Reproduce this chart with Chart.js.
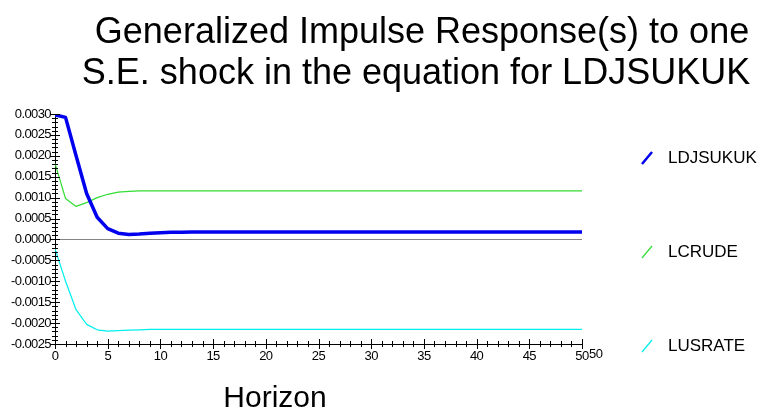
<!DOCTYPE html>
<html><head><meta charset="utf-8">
<script src="https://cdn.jsdelivr.net/npm/chart.js@4/dist/chart.umd.min.js"></script>
<style>html,body{margin:0;padding:0;background:#fff}#wrap{width:777px;height:412px}</style>
</head><body><div id="wrap"><canvas id="c" width="777" height="412"></canvas></div>
<script>
const titleLines = ["Generalized Impulse Response(s) to one", "S.E. shock in the equation for LDJSUKUK"];
const xTitle = "Horizon";
const seriesNames = ["LDJSUKUK", "LCRUDE", "LUSRATE"];
const horizon = Array.from({length: 51}, (_, i) => i);
const ldjsukuk = [0.00298,0.00292,0.00200,0.00110,0.00053,0.00026,0.00015,0.00012,0.00013,0.00015,0.00016,0.00017,0.00017,0.00018,0.00018,0.00018,0.00018,0.00018,0.00018,0.00018,0.00018,0.00018,0.00018,0.00018,0.00018,0.00018,0.00018,0.00018,0.00018,0.00018,0.00018,0.00018,0.00018,0.00018,0.00018,0.00018,0.00018,0.00018,0.00018,0.00018,0.00018,0.00018,0.00018,0.00018,0.00018,0.00018,0.00018,0.00018,0.00018,0.00018,0.00018];
const lcrude = [0.00182,0.00098,0.00079,0.00088,0.00100,0.00108,0.00113,0.00115,0.00116,0.00116,0.00116,0.00116,0.00116,0.00116,0.00116,0.00116,0.00116,0.00116,0.00116,0.00116,0.00116,0.00116,0.00116,0.00116,0.00116,0.00116,0.00116,0.00116,0.00116,0.00116,0.00116,0.00116,0.00116,0.00116,0.00116,0.00116,0.00116,0.00116,0.00116,0.00116,0.00116,0.00116,0.00116,0.00116,0.00116,0.00116,0.00116,0.00116,0.00116,0.00116,0.00116];
const lusrate = [-0.00022,-0.00100,-0.00168,-0.00203,-0.00216,-0.00219,-0.00218,-0.00217,-0.00216,-0.00215,-0.00215,-0.00215,-0.00215,-0.00215,-0.00215,-0.00215,-0.00215,-0.00215,-0.00215,-0.00215,-0.00215,-0.00215,-0.00215,-0.00215,-0.00215,-0.00215,-0.00215,-0.00215,-0.00215,-0.00215,-0.00215,-0.00215,-0.00215,-0.00215,-0.00215,-0.00215,-0.00215,-0.00215,-0.00215,-0.00215,-0.00215,-0.00215,-0.00215,-0.00215,-0.00215,-0.00215,-0.00215,-0.00215,-0.00215,-0.00215,-0.00215];
const colors = ["#0000ee", "#33dd33", "#00eeee"];
const widths = [3.5, 1.2, 1.2];
const yMin = -0.0025, yMax = 0.0030;

const FONT = '"Liberation Sans", Arial, sans-serif';

const extras = {
  id: 'extras',
  beforeDraw(chart) { chart.ctx.letterSpacing = '-0.6px'; },
  afterDraw(chart) {
    const ctx = chart.ctx;
    const xs = chart.scales.x, ys = chart.scales.y;
    ctx.save();
    ctx.strokeStyle = '#000';
    ctx.lineWidth = 1;
    ys.ticks.forEach(t => {
      const p = Math.round(ys.getPixelForValue(t.value)) + 0.5;
      const major = Math.round(t.value * 10000) % 5 === 0;
      const L = major ? 5 : 3;
      ctx.beginPath(); ctx.moveTo(xs.left - L, p); ctx.lineTo(xs.left + L, p); ctx.stroke();
    });
    xs.ticks.forEach(t => {
      const p = Math.round(xs.getPixelForValue(t.value)) + 0.5;
      const major = Math.round(t.value) % 5 === 0;
      const L = major ? 5 : 3;
      ctx.beginPath(); ctx.moveTo(p, ys.bottom - L); ctx.lineTo(p, ys.bottom + L); ctx.stroke();
    });
    // trailing end label
    ctx.fillStyle = '#000';
    ctx.font = '13px ' + FONT;
    ctx.textAlign = 'left';
    ctx.textBaseline = 'top';
    ctx.fillText('50', xs.getPixelForValue(50) + 7, ys.bottom + 4);
    ctx.letterSpacing = '0px';
    // titles
    ctx.textAlign = 'center';
    ctx.textBaseline = 'alphabetic';
    ctx.font = '36px ' + FONT;
    ctx.fillText(titleLines[0], 422, 43);
    ctx.fillText(titleLines[1], 416, 84);
    ctx.font = '30px ' + FONT;
    ctx.fillText(xTitle, 275, 407);
    // legend
    const ly = [158, 252, 346];
    chart.data.datasets.forEach((ds, i) => {
      ctx.strokeStyle = ds.borderColor;
      ctx.lineWidth = i === 0 ? 2.5 : 1.2;
      ctx.beginPath(); ctx.moveTo(642, ly[i] + 6); ctx.lineTo(652, ly[i] - 6); ctx.stroke();
      ctx.fillStyle = '#000';
      ctx.font = '17px ' + FONT;
      ctx.textAlign = 'left';
      ctx.textBaseline = 'middle';
      ctx.fillText(ds.label, 668, ly[i]);
    });
    ctx.restore();
    ctx.letterSpacing = '0px';
  }
};

new Chart(document.getElementById('c'), {
  type: 'line',
  data: {
    labels: horizon,
    datasets: [ldjsukuk, lcrude, lusrate].map((d, i) => ({
      label: seriesNames[i],
      data: d.map((v, k) => ({x: horizon[k], y: v})),
      borderColor: colors[i],
      backgroundColor: colors[i],
      borderWidth: widths[i],
      pointRadius: 0,
      tension: 0,
      fill: false,
      borderJoinStyle: 'round'
    }))
  },
  options: {
    responsive: false,
    animation: false,
    layout: {padding: {left: 0, right: 195, top: 114, bottom: 0}},
    plugins: {legend: {display: false}, title: {display: false}, tooltip: {enabled: false}},
    scales: {
      x: {
        type: 'linear', min: 0, max: 50,
        afterFit(s) { s.height = 68; },
        border: {display: true, color: '#000', width: 1},
        grid: {display: true, drawOnChartArea: false, drawTicks: false},
        ticks: {
          stepSize: 1, autoSkip: false, maxRotation: 0, maxTicksLimit: 100, padding: 5,
          color: '#000', font: {family: FONT, size: 13},
          callback: v => (Math.round(v) % 5 === 0 ? String(Math.round(v)) : '')
        }
      },
      y: {
        type: 'linear', min: yMin, max: yMax,
        afterFit(s) { s.width = 55; },
        border: {display: true, color: '#000', width: 1},
        grid: {
          display: true, drawOnChartArea: true, drawTicks: false,
          color: c => (Math.abs(c.tick.value) < 1e-9 ? '#666' : 'rgba(0,0,0,0)'),
          lineWidth: 0.8
        },
        ticks: {
          stepSize: 0.0001, autoSkip: false, maxTicksLimit: 100, padding: 4,
          color: '#000', font: {family: FONT, size: 13},
          callback: v => (Math.abs(Math.round(v * 10000)) % 5 === 0 ? (Math.abs(v) < 1e-9 ? '0.0000' : v.toFixed(4)) : '')
        }
      }
    }
  },
  plugins: [extras]
});
</script></body></html>
